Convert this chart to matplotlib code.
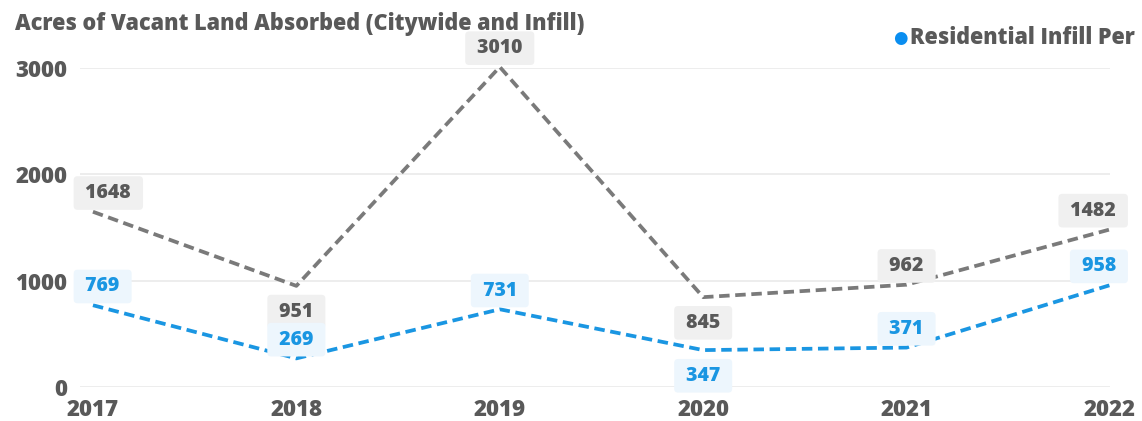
import matplotlib.pyplot as plt

years = [2017, 2018, 2019, 2020, 2021, 2022]
citywide = [1648, 951, 3010, 845, 962, 1482]
infill = [769, 269, 731, 347, 371, 958]
# label placement per point: +1 above, -1 below
citywide_side = [1, -1, 1, -1, 1, 1]
infill_side = [1, 1, 1, -1, 1, 1]
yticks = [0, 1000, 2000, 3000]

gray = "#7a7a7a"
blue = "#1a96e2"
text_gray = "#595959"

plt.rcParams['font.family'] = ['Open Sans', 'DejaVu Sans']
W = "extra bold"

fig = plt.figure(figsize=(11.42, 4.21), dpi=100)
ax = fig.add_axes([80 / 1142, 1 - 387 / 421, (1110 - 80) / 1142, (387 - 68) / 421])
ax.set_ylim(0, 3000)
ax.set_xlim(2017 - 13 / 204, 2022 - 2 / 204)

for y in yticks:
    ax.axhline(y, color="#ececec", lw=1.3, zorder=0)

ax.plot(years, citywide, color=gray, lw=2.7, ls=(0, (2.8, 1.5)), clip_on=False, zorder=3)
ax.plot(years, infill, color=blue, lw=2.7, ls=(0, (2.8, 1.5)), clip_on=False, zorder=3)

def label(xs, ys, sides, color, bg):
    for i, (x, v, s) in enumerate(zip(xs, ys, sides)):
        off = 13.5 if s > 0 else -18.5
        # keep the end labels inside the plot area
        ha, dx = "center", 0
        if i == 0:
            ha, dx = "left", -9
        elif i == len(xs) - 1:
            ha, dx = "right", 8
        ax.annotate(f" {v} ", (x, v), xytext=(dx, off), textcoords="offset points",
                    ha=ha, va="center", fontsize=14, fontweight=W, color=color,
                    bbox=dict(boxstyle="round,pad=0.35,rounding_size=0.2", fc=bg, ec="none"),
                    annotation_clip=False, zorder=4)

label(years, citywide, citywide_side, text_gray, "#f0f0f0")
label(years, infill, infill_side, blue, "#edf6fd")

ax.set_xticks(years)
ax.set_xticklabels([str(y) for y in years])
ax.set_yticks(yticks)
ax.tick_params(length=0, labelsize=16, labelcolor=text_gray)
for t in ax.get_xticklabels() + ax.get_yticklabels():
    t.set_fontweight(W)
ax.tick_params(axis="y", pad=9)
ax.tick_params(axis="x", pad=8)
for s in ax.spines.values():
    s.set_visible(False)

fig.text(15 / 1142, 1 - 24 / 421, "Acres of Vacant Land Absorbed (Citywide and Infill)",
         fontsize=15.6, fontweight=W, color=text_gray, va="center", ha="left")
fig.text(900 / 1142, 1 - 38 / 421, "\u25cf", color="#0a8ef0", fontsize=12, va="center", ha="center",
         family=['DejaVu Sans'])
fig.text(910 / 1142, 1 - 38 / 421, "Residential Infill Per",
         fontsize=15.5, fontweight=W, color=text_gray, va="center", ha="left")

fig.savefig("out.png", dpi=100)
